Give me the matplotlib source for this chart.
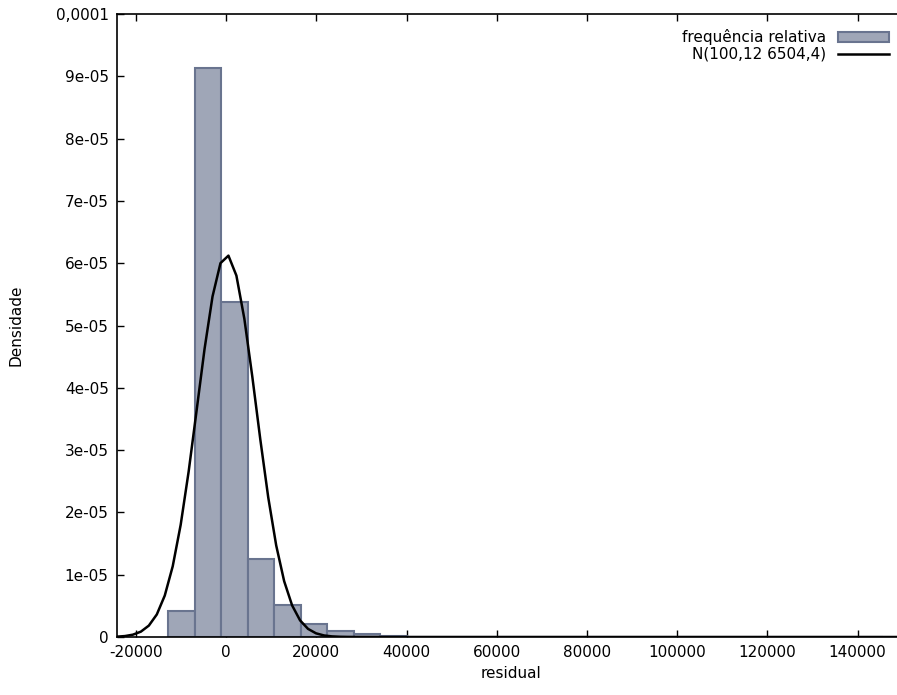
import numpy as np
import matplotlib.pyplot as plt

# histogram of residuals (relative frequency density)
bin_start = -12818
bin_width = 5870
densidade = [4.22e-06, 9.13e-05, 5.38e-05, 1.25e-05, 5.1e-06, 2.1e-06, 9.0e-07,
             4.3e-07, 1.5e-07, 8e-08, 5e-08, 3e-08, 2e-08, 2e-08, 0, 1e-08,
             0, 0, 1e-08, 0, 0, 0, 0, 0, 0, 0, 1e-08]

# normal curve parameters (from legend)
media = 100.12
desvio = 6504.4

yticks = [0, 1e-05, 2e-05, 3e-05, 4e-05, 5e-05, 6e-05, 7e-05, 8e-05, 9e-05, 1e-04]
ytick_labels = ['0', '1e-05', '2e-05', '3e-05', '4e-05', '5e-05', '6e-05',
                '7e-05', '8e-05', '9e-05', '0,0001']
xticks = [-20000, 0, 20000, 40000, 60000, 80000, 100000, 120000, 140000]

xmin, xmax = -24200, 150500

plt.rcParams['font.family'] = 'DejaVu Sans'
plt.rcParams['font.size'] = 11

fig = plt.figure(figsize=(8.97, 6.95), dpi=100)
ax = fig.add_axes([117 / 897, 58 / 695, (905 - 117) / 897, (637 - 14) / 695])

edges = bin_start + bin_width * np.arange(len(densidade))
barras = ax.bar(edges, densidade, width=bin_width, align='edge', color='#9fa6b7',
                edgecolor='#69748f', linewidth=1.5, label='frequência relativa',
                zorder=2)

xs = np.linspace(xmin, xmax, 100)
ys = np.exp(-0.5 * ((xs - media) / desvio) ** 2) / (desvio * np.sqrt(2 * np.pi))
curva, = ax.plot(xs, ys, color='black', linewidth=1.8, label='N(100,12 6504,4)',
                 zorder=3)

ax.set_xlim(xmin, xmax)
ax.set_ylim(0, 1e-04)
ax.set_xticks(xticks)
ax.set_xticklabels([str(t) for t in xticks])
ax.set_yticks(yticks)
ax.set_yticklabels(ytick_labels)
ax.tick_params(direction='in', length=5, width=1, top=True, right=False,
               labelsize=11, pad=6)

for s in ax.spines.values():
    s.set_linewidth(1.2)
ax.spines['right'].set_visible(False)

ax.set_xlabel('residual', fontsize=11, labelpad=4)
ax.set_ylabel('Densidade', fontsize=11, labelpad=23)

ax.legend([barras, curva], ['frequência relativa', 'N(100,12 6504,4)'],
          loc='upper right', bbox_to_anchor=(0.987, 0.985),
          frameon=False, markerfirst=False, handlelength=3.3,
          handletextpad=0.8, labelspacing=0.1, borderaxespad=0, fontsize=11)

fig.savefig('out.png', dpi=100)
